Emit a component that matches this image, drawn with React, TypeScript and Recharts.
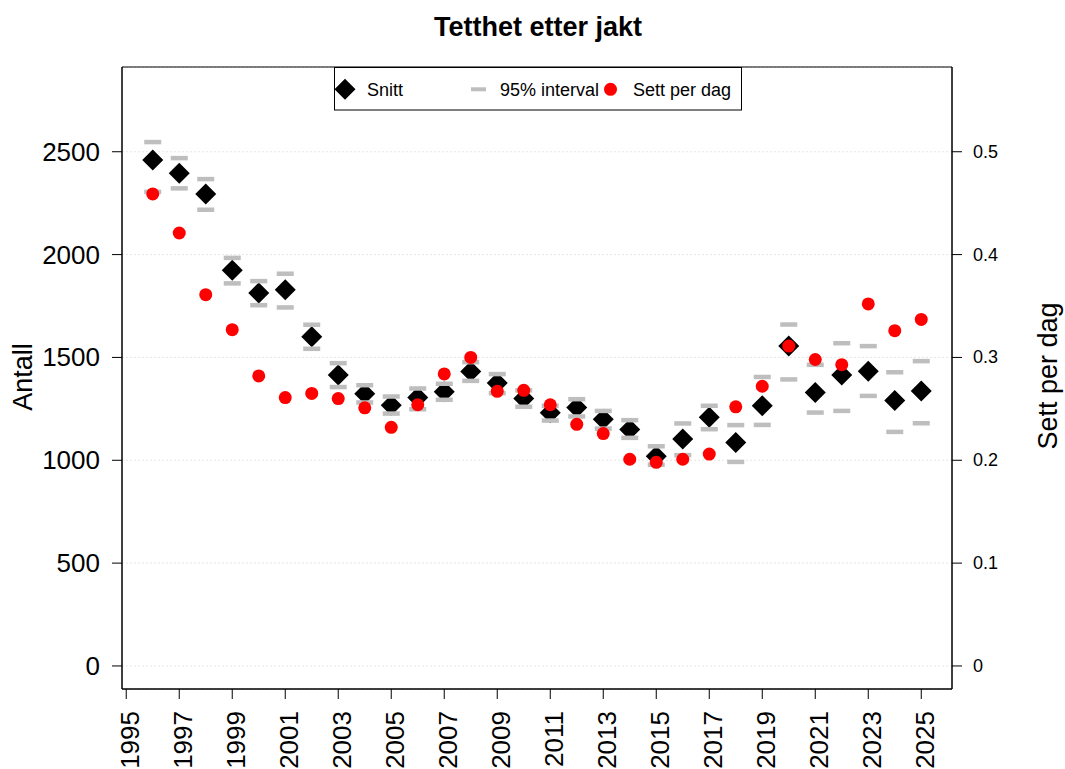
import React from 'react';
import {
  ComposedChart, Scatter, XAxis, YAxis, CartesianGrid, ReferenceArea,
} from 'recharts';

const years = [
  1996, 1997, 1998, 1999, 2000, 2001, 2002, 2003, 2004, 2005,
  2006, 2007, 2008, 2009, 2010, 2011, 2012, 2013, 2014, 2015,
  2016, 2017, 2018, 2019, 2020, 2021, 2022, 2023, 2024, 2025,
];
const snitt = [
  2460, 2395, 2294, 1924, 1813, 1829, 1601, 1415, 1323, 1268,
  1305, 1333, 1432, 1376, 1300, 1231, 1256, 1200, 1150, 1020,
  1103, 1209, 1086, 1265, 1556, 1330, 1414, 1433, 1291, 1337,
];
const upper = [
  2547, 2469, 2367, 1984, 1871, 1907, 1659, 1472, 1365, 1310,
  1349, 1372, 1477, 1419, 1340, 1265, 1297, 1240, 1195, 1068,
  1179, 1265, 1171, 1405, 1660, 1464, 1569, 1555, 1428, 1482,
];
const lower = [
  2305, 2322, 2218, 1860, 1754, 1743, 1542, 1356, 1281, 1227,
  1248, 1294, 1386, 1326, 1260, 1193, 1213, 1154, 1109, 978,
  1025, 1151, 992, 1172, 1393, 1232, 1240, 1313, 1138, 1180,
];
const settPerDag = [
  0.459, 0.421, 0.361, 0.327, 0.282, 0.261, 0.265, 0.260, 0.251, 0.232,
  0.254, 0.284, 0.300, 0.267, 0.268, 0.254, 0.235, 0.226, 0.201, 0.198,
  0.201, 0.206, 0.252, 0.272, 0.311, 0.298, 0.293, 0.352, 0.326, 0.337,
];
const xTicks = [1995, 1997, 1999, 2001, 2003, 2005, 2007, 2009, 2011, 2013, 2015, 2017, 2019, 2021, 2023, 2025];
const leftTicks = [0, 500, 1000, 1500, 2000, 2500];
const rightTicks = [0, 0.1, 0.2, 0.3, 0.4, 0.5];

const FONT = '"Liberation Sans", Arial, Helvetica, sans-serif';
const GREY = '#BEBEBE';

const rows = years.map((year, i) => ({
  year,
  snitt: snitt[i],
  upper: upper[i],
  lower: lower[i],
  sett: settPerDag[i],
}));

const Diamond = ({ cx, cy }: any) => {
  if (cx == null || cy == null) return null;
  const r = 10.5;
  return <path d={`M${cx},${cy - r}L${cx + r},${cy}L${cx},${cy + r}L${cx - r},${cy}Z`} fill="#000" />;
};

const Dash = ({ cx, cy }: any) => {
  if (cx == null || cy == null) return null;
  return <rect x={cx - 8.5} y={cy - 2.25} width={17} height={4.5} fill={GREY} />;
};

const Dot = ({ cx, cy }: any) => {
  if (cx == null || cy == null) return null;
  return <circle cx={cx} cy={cy} r={6.5} fill="#FF0000" />;
};

const LeftTick = ({ x, y, payload }: any) => (
  <text x={x} y={y} textAnchor="end" dominantBaseline="central" fontSize={26} fontFamily={FONT} fill="#000">
    {payload.value}
  </text>
);

const RightTick = ({ x, y, payload }: any) => (
  <text x={x} y={y} textAnchor="start" dominantBaseline="central" fontSize={18} fontFamily={FONT} fill="#000">
    {payload.value}
  </text>
);

const BottomTick = ({ x, y, payload }: any) => {
  const tx = x + 4;
  return (
    <text
      x={tx}
      y={y}
      transform={`rotate(-90, ${tx}, ${y})`}
      textAnchor="end"
      dominantBaseline="central"
      fontSize={26}
      fontFamily={FONT}
      fill="#000"
    >
      {payload.value}
    </text>
  );
};

export default function App() {
  return (
    <div style={{ position: 'absolute', left: 0, top: 0, width: 1065, height: 769, background: '#fff' }}>
      <ComposedChart
        width={1065}
        height={769}
        data={rows}
        margin={{ top: 67, right: 10, bottom: 10, left: 10 }}
      >
        <CartesianGrid yAxisId="left" vertical={false} stroke="#e6e6e6" strokeDasharray="2 2" />
        <XAxis
          dataKey="year"
          type="number"
          domain={[1994.84, 2026.16]}
          allowDataOverflow
          ticks={xTicks}
          interval={0}
          height={70}
          tickSize={10}
          tickMargin={12}
          stroke="#000"
          tick={<BottomTick />}
        />
        <YAxis
          yAxisId="left"
          type="number"
          domain={[-112, 2912]}
          allowDataOverflow
          ticks={leftTicks}
          interval={0}
          width={112}
          tickSize={10}
          tickMargin={12}
          stroke="#000"
          tick={<LeftTick />}
        />
        <YAxis
          yAxisId="right"
          orientation="right"
          type="number"
          domain={[-0.0224, 0.5824]}
          allowDataOverflow
          ticks={rightTicks}
          interval={0}
          width={103}
          tickSize={10}
          tickMargin={11}
          stroke="#000"
          tick={<RightTick />}
        />
        <ReferenceArea
          yAxisId="left"
          x1={1994.84}
          x2={2026.16}
          y1={-112}
          y2={2912}
          fill="none"
          fillOpacity={0}
          stroke="#000"
          strokeWidth={1}
          ifOverflow="visible"
        />
        <Scatter yAxisId="left" dataKey="snitt" name="Snitt" shape={<Diamond />} isAnimationActive={false} />
        <Scatter yAxisId="left" dataKey="lower" name="95% interval" shape={<Dash />} isAnimationActive={false} />
        <Scatter yAxisId="left" dataKey="upper" name="95% interval" shape={<Dash />} isAnimationActive={false} />
        <Scatter yAxisId="right" dataKey="sett" name="Sett per dag" shape={<Dot />} isAnimationActive={false} />
      </ComposedChart>

      <svg
        width={1065}
        height={769}
        style={{ position: 'absolute', left: 0, top: 0, pointerEvents: 'none' }}
        fontFamily={FONT}
      >
        <text x={538} y={35.5} textAnchor="middle" fontSize={27} fontWeight="bold" fill="#000">
          Tetthet etter jakt
        </text>
        <text x={32} y={377} transform="rotate(-90, 32, 377)" textAnchor="middle" fontSize={27} fill="#000">
          Antall
        </text>
        <text x={1057} y={376} transform="rotate(-90, 1057, 376)" textAnchor="middle" fontSize={27} fill="#000">
          Sett per dag
        </text>

        <g>
          <rect x={334.5} y={67.5} width={407} height={42.5} fill="#fff" stroke="#000" strokeWidth={1} />
          <path d="M345,78.8L355.5,89.3L345,99.8L334.5,89.3Z" fill="#000" />
          <text x={367} y={96} fontSize={18} fill="#000">Snitt</text>
          <rect x={471} y={87.3} width={15} height={4} fill={GREY} />
          <text x={500} y={96} fontSize={18} fill="#000">95% interval</text>
          <circle cx={610.5} cy={89.3} r={6.5} fill="#FF0000" />
          <text x={633} y={96} fontSize={18} fill="#000">Sett per dag</text>
        </g>
      </svg>
    </div>
  );
}
